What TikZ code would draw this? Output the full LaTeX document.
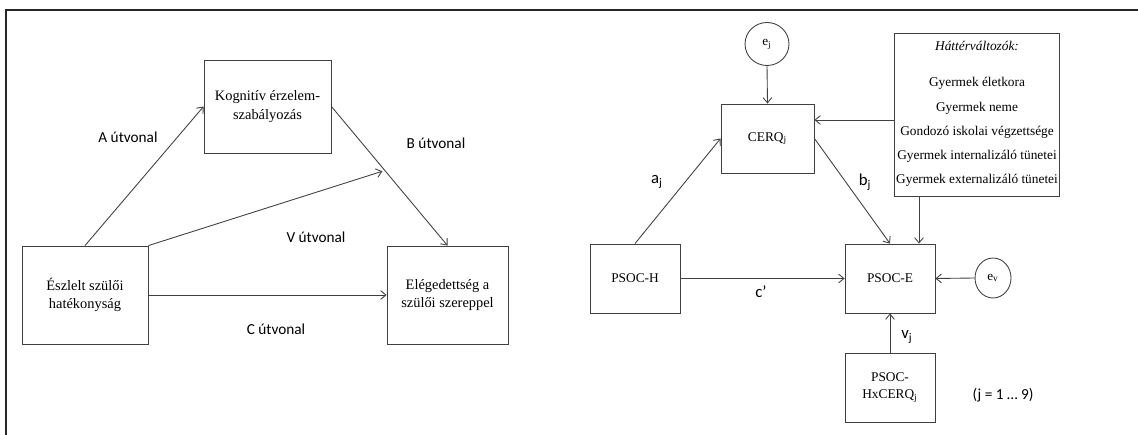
\documentclass[tikz,border=0pt]{standalone}
\usepackage{fontspec}
\setmainfont{Liberation Serif}
\newfontfamily\labelfont{Carlito}
\usetikzlibrary{arrows.meta,calc,shapes.geometric}

\begin{document}
\begin{tikzpicture}[x=0.02cm,y=-0.02cm,
  line width=0.5pt,
  every node/.style={inner sep=0pt},
  box/.style={draw=black!75,rectangle,align=center},
  lbox/.style={box,font=\fontsize{8.2}{10.6}\selectfont},
  rbox/.style={box,font=\fontsize{7.6}{9.6}\selectfont},
  errc/.style={draw=black!75,ellipse,font=\fontsize{7.5}{9}\selectfont},
  path/.style={font=\labelfont\fontsize{8.7}{10}\selectfont},
  coef/.style={font=\labelfont\fontsize{9.5}{11}\selectfont},
  cov/.style={font=\fontsize{7.6}{9}\selectfont},
  arr/.style={draw=black!75,-{Straight Barb[length=3pt,width=5pt]}}
]
\useasboundingbox (0,0) rectangle (1138,435);
% outer frame
\draw[line width=1.6pt,black!85] (6,435) -- (6,10) -- (1138,10);

% ---- simple mediation model ----
\node[lbox,minimum width=127*0.02cm,minimum height=93*0.02cm] (kog) at (267.5,106.5)
  {Kognitív érzelem-\\szabályozás};
\node[lbox,minimum width=126*0.02cm,minimum height=98*0.02cm] (esz) at (85,295)
  {Észlelt szülői\\hatékonyság};
\node[lbox,minimum width=121*0.02cm,minimum height=98*0.02cm] (ele) at (447.5,295)
  {Elégedettség a\\szülői szereppel};

\draw[arr] (esz.north) -- (kog.west);
\draw[arr] (kog.east) -- (ele.north);
\coordinate (vend) at ($(kog.east)!0.46!(ele.north)$);
\draw[arr,shorten >=1.5pt] (esz.north east) -- (vend);
\draw[arr] (esz.east) -- (ele.west);

\node[path] (la) at (128,137) {A útvonal};
\node[path] (lb) at (436,143) {B útvonal};
\node[path] (lv) at (316,237) {V útvonal};
\node[path] (lc) at (276,329) {C útvonal};

% ---- moderated mediation model ----
\node[errc,minimum width=44*0.02cm,minimum height=43*0.02cm] (ej) at (767,44) {e\textsubscript{j}};
\node[rbox,minimum width=93*0.02cm,minimum height=69*0.02cm] (cerq) at (767.5,138.5) {CERQ\textsubscript{j}};
\node[rbox,minimum width=90*0.02cm,minimum height=69*0.02cm] (psh) at (635,278.5) {PSOC-H};
\node[rbox,minimum width=90*0.02cm,minimum height=69*0.02cm] (pse) at (890,278.5) {PSOC-E};
\node[rbox,minimum width=90*0.02cm,minimum height=69*0.02cm] (pshx) at (890,387.5) {PSOC-\\HxCERQ\textsubscript{j}};
\node[errc,minimum width=36*0.02cm,minimum height=40*0.02cm] (ev) at (993,278) {e\textsubscript{v}};

% covariates
\node[box,minimum width=165*0.02cm,minimum height=163*0.02cm] (hat) at (976.5,114.5) {};
\node[cov] (h0) at (977,46) {\textit{Háttérváltozók:}};
\node[cov] (h1) at (977,83) {Gyermek életkora};
\node[cov] (h2) at (977,108) {Gyermek neme};
\node[cov] (h3) at (977,132) {Gondozó iskolai végzettsége};
\node[cov] (h4) at (977,156) {Gyermek internalizáló tünetei};
\node[cov] (h5) at (977,180) {Gyermek externalizáló tünetei};

\coordinate (hy) at (0,120);
\coordinate (hx) at (919,0);

\draw[arr] (ej.south) -- (cerq.north);
\draw[arr] (hat.west |- hy) -- (cerq.east |- hy);
\draw[arr] (hat.south -| hx) -- (pse.north -| hx);
\draw[arr] (psh.north) -- (cerq.west);
\draw[arr] (cerq.east) -- (pse.north);
\draw[arr] (psh.east) -- (pse.west);
\draw[arr] (ev.west) -- (pse.east);
\draw[arr] (pshx.north) -- (pse.south);

\node[coef] (ca) at (657,182) {a\textsubscript{j}};
\node[coef] (cb) at (865,182) {b\textsubscript{j}};
\node[coef] (cc) at (761,292) {c’};
\node[coef] (cv) at (907,337) {v\textsubscript{j}};
\node[path] (jr) at (1003,395) {(j = 1 … 9)};
\end{tikzpicture}
\end{document}
